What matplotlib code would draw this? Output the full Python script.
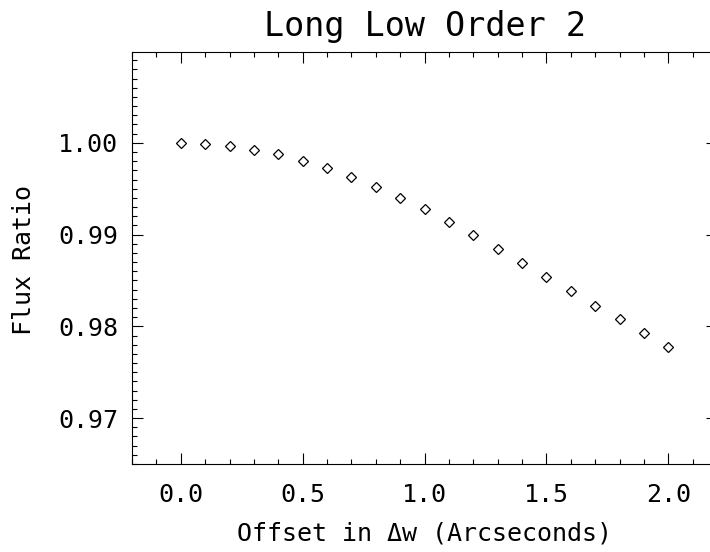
import matplotlib
matplotlib.use("Agg")
import matplotlib.pyplot as plt
from matplotlib.ticker import MultipleLocator, FormatStrFormatter, FixedLocator

# Data
offset = [0.0, 0.1, 0.2, 0.3, 0.4, 0.5, 0.6, 0.7, 0.8, 0.9, 1.0,
          1.1, 1.2, 1.3, 1.4, 1.5, 1.6, 1.7, 1.8, 1.9, 2.0]
flux_ratio = [1.0000, 0.99992, 0.99967, 0.99927, 0.99877, 0.99800, 0.99724,
              0.99629, 0.99520, 0.99403, 0.99277, 0.99138, 0.99000, 0.98847,
              0.98695, 0.98542, 0.98386, 0.98226, 0.98077, 0.97924, 0.97779]
y_ticks = [0.97, 0.98, 0.99, 1.00]
x_ticks = [0.0, 0.5, 1.0, 1.5, 2.0]

title = "Long Low Order 2"
xlabel = "Offset in \u0394w (Arcseconds)"
ylabel = "Flux Ratio"

plt.rcParams['font.family'] = ['DejaVu Sans Mono', 'DejaVu Sans']

W, H = 710, 552
fig = plt.figure(figsize=(W / 100, H / 100), dpi=100)
left, right, top, bottom = 132, 717, 52, 464
ax = fig.add_axes([left / W, 1 - bottom / H, (right - left) / W, (bottom - top) / H])

ax.plot(offset, flux_ratio, linestyle='none', marker='D', markersize=5.6,
        markerfacecolor='none', markeredgecolor='black', markeredgewidth=0.9)

ax.set_xlim(-0.2, 2.2)
ax.set_ylim(0.965, 1.0099)

ax.xaxis.set_major_locator(FixedLocator(x_ticks))
ax.xaxis.set_minor_locator(MultipleLocator(0.1))
ax.yaxis.set_major_locator(FixedLocator(y_ticks))
ax.yaxis.set_minor_locator(MultipleLocator(0.001))
ax.xaxis.set_major_formatter(FormatStrFormatter('%.1f'))
ax.yaxis.set_major_formatter(FormatStrFormatter('%.2f'))

for s in ax.spines.values():
    s.set_linewidth(0.8)
    s.set_color('black')

ax.tick_params(which='both', direction='in', top=True, right=True, width=0.8, color='black')
ax.tick_params(which='major', length=8)
ax.tick_params(which='minor', length=3.6)
ax.tick_params(axis='x', which='major', pad=14, labelsize=18)
ax.tick_params(axis='y', which='major', pad=10, labelsize=18)

ax.set_title(title, fontsize=24, pad=11.5)
ax.set_xlabel(xlabel, fontsize=18)
ax.xaxis.set_label_coords(0.5, (bottom - 541) / (bottom - top))
ax.xaxis.label.set_va('baseline')
ax.set_ylabel(ylabel, fontsize=18)
ax.yaxis.set_label_coords((24 - left) / (right - left), (bottom - 260) / (bottom - top))
ax.yaxis.label.set_va('center')

fig.savefig("out.png", dpi=100)
